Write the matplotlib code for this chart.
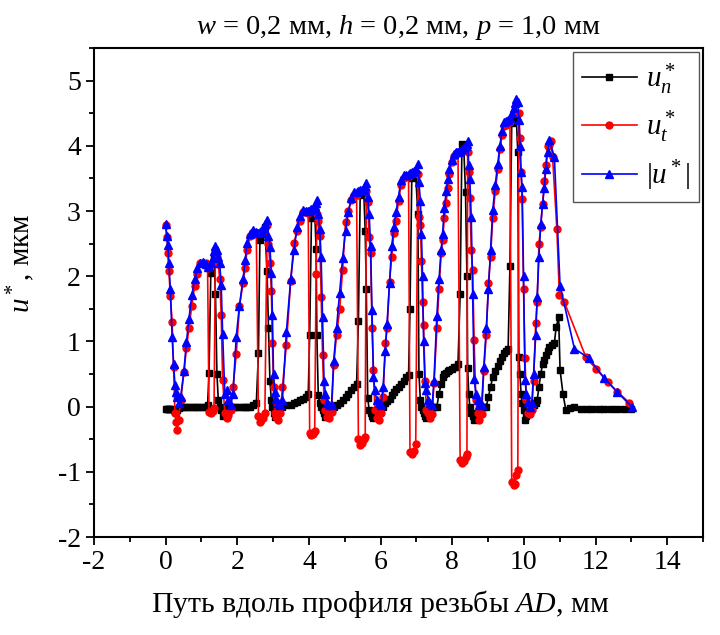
import matplotlib
matplotlib.use("Agg")
import matplotlib.pyplot as plt
from matplotlib.ticker import MultipleLocator

plt.rcParams['font.family'] = ['Liberation Serif', 'DejaVu Serif']
plt.rcParams['mathtext.fontset'] = 'custom'
plt.rcParams['mathtext.rm'] = 'Liberation Serif'
plt.rcParams['mathtext.it'] = 'Liberation Serif:italic'
plt.rcParams['axes.unicode_minus'] = False

# shared nodes along the thread profile (x, mm) - start, then tooth by tooth
x_main = [
    0.00, 0.03, 0.06, 0.09, 0.13, 0.18, 0.22, 0.26, 0.29, 0.32, 0.36,
    0.42, 0.51, 0.58, 0.65, 0.73, 0.81, 0.88, 0.96, 1.04, 1.12, 1.17, 1.21, 1.26, 1.31, 1.35, 1.39,
    1.43, 1.47, 1.51, 1.55, 1.59, 1.65, 1.70, 1.75, 1.81,
    1.88, 1.97, 2.06, 2.16, 2.22, 2.27, 2.35, 2.45, 2.53, 2.59, 2.63, 2.67, 2.72, 2.77, 2.83,
    2.87, 2.91, 2.95, 2.98, 3.01, 3.05, 3.09, 3.14, 3.20,
    3.26, 3.37, 3.49, 3.58, 3.67, 3.75, 3.83, 3.92, 3.98, 4.02, 4.07, 4.12, 4.16, 4.20, 4.22,
    4.26, 4.30, 4.34, 4.38, 4.42, 4.46, 4.51, 4.57, 4.63,
    4.69, 4.77, 4.86, 4.94, 5.02, 5.10, 5.18, 5.27, 5.33, 5.38, 5.43, 5.48, 5.53, 5.57, 5.60,
    5.64, 5.68, 5.72, 5.76, 5.80, 5.84, 5.89, 5.95, 6.01,
    6.07, 6.13, 6.18, 6.25, 6.31, 6.37, 6.43, 6.50, 6.57, 6.65, 6.72, 6.78, 6.82, 6.87, 6.93, 6.98, 7.04,
    7.07, 7.11, 7.14, 7.17, 7.20, 7.24, 7.28, 7.33, 7.38, 7.44,
    7.49, 7.57, 7.63, 7.69, 7.73, 7.78, 7.83, 7.87, 7.92, 7.98, 8.04, 8.10, 8.16, 8.22, 8.27, 8.32, 8.37, 8.41, 8.43,
    8.46, 8.49, 8.53, 8.57, 8.61, 8.66, 8.71, 8.76, 8.82,
    8.88, 8.95, 9.01, 9.07, 9.13, 9.20, 9.27, 9.33, 9.39, 9.45, 9.51, 9.56, 9.61, 9.66, 9.71, 9.75, 9.79, 9.83,
    9.86, 9.89, 9.92, 9.95, 9.99, 10.03, 10.07, 10.12, 10.17, 10.22,
    10.27, 10.33, 10.37, 10.42, 10.47, 10.52, 10.57, 10.61, 10.66, 10.71,
]

u_abs_main = [
    2.80, 2.62, 2.48, 2.20, 1.80, 1.07, 0.65, 0.33, 0.23, 0.15, 0.05,
    0.15, 0.55, 0.99, 1.35, 1.71, 1.95, 2.12, 2.20, 2.22, 2.18, 2.14, 2.15, 2.20, 2.28, 2.38, 2.47,
    2.40, 2.30, 2.20, 1.86, 1.12, 0.20, 0.25, 0.10, 0.02,
    0.20, 1.07, 1.55, 1.96, 2.25, 2.51, 2.65, 2.71, 2.68, 2.66, 2.68, 2.70, 2.74, 2.80, 2.86,
    2.62, 2.45, 2.05, 1.40, 0.50, 0.22, 0.12, 0.05, 0.02,
    0.10, 1.15, 1.95, 2.40, 2.75, 2.92, 3.01, 3.00, 3.00, 3.02, 3.03, 3.05, 3.08, 3.12, 3.17,
    2.95, 2.73, 2.29, 1.38, 0.40, 0.20, 0.05, 0.02, 0.02,
    0.70, 1.20, 1.75, 2.28, 2.70, 2.98, 3.20, 3.29, 3.29, 3.30, 3.32, 3.32, 3.35, 3.38, 3.43,
    3.21, 2.96, 2.47, 1.48, 0.45, 0.25, 0.10, 0.05, 0.02,
    0.30, 0.85, 1.27, 1.90, 2.46, 2.75, 2.98, 3.22, 3.47, 3.55, 3.55, 3.57, 3.58, 3.60, 3.62, 3.65, 3.72,
    3.44, 3.16, 2.65, 2.00, 1.00, 0.36, 0.25, 0.10, 0.05, 0.02,
    0.40, 1.39, 1.95, 2.40, 2.65, 3.05, 3.30, 3.49, 3.65, 3.78, 3.88, 3.90, 3.90, 3.92, 3.95, 3.98, 4.00, 4.03, 4.07,
    3.70, 3.49, 2.91, 1.73, 0.43, 0.20, 0.10, 0.02, 0.02,
    0.60, 1.20, 1.80, 2.40, 3.01, 3.40, 3.72, 4.00, 4.23, 4.36, 4.38, 4.40, 4.42, 4.50, 4.58, 4.65, 4.72, 4.67,
    4.40, 4.00, 3.60, 3.37, 2.01, 0.41, 0.20, 0.07, 0.00, 0.05,
    0.50, 1.10, 1.68, 2.30, 2.80, 3.10, 3.35, 3.65, 3.90, 4.09,
]

u_t_main = [
    2.78, 2.60, 2.35, 2.08, 1.70, 1.30, 0.61, -0.10, -0.23, -0.36, -0.20,
    0.10, 0.53, 0.90, 1.20, 1.55, 1.85, 2.03, 2.20, 2.20, 2.20, 2.12, -0.08, -0.10, -0.07, -0.02, 2.40,
    2.29, 2.19, 1.95, 1.40, 0.41, -0.10, -0.18, -0.13, -0.05,
    0.30, 0.80, 1.54, 1.90, 2.13, 2.40, 2.62, 2.68, 2.66, -0.15, -0.23, -0.20, -0.17, -0.10, 2.78,
    2.50, 2.20, 1.78, 0.98, 0.30, -0.10, -0.16, -0.20, -0.10,
    0.30, 0.95, 1.93, 2.51, 2.70, 2.84, 2.98, 2.98, 2.97, -0.40, -0.44, -0.42, -0.38, 2.04, 2.95,
    2.85, 2.62, 1.68, 0.79, 0.10, -0.05, -0.16, -0.18, -0.08,
    0.64, 1.10, 1.50, 2.10, 2.83, 3.00, 3.17, 3.25, 3.25, -0.50, -0.59, -0.56, -0.50, -0.46, 3.30,
    3.14, 2.60, 2.35, 1.20, 0.56, -0.05, -0.18, -0.20, -0.10,
    0.15, 0.98, 1.20, 1.91, 2.30, 2.66, 2.85, 3.15, 3.40, 3.50, 3.53, 3.53, -0.69, -0.72, -0.68, -0.58, 3.57,
    2.91, 2.78, 2.24, 1.60, 1.25, 0.40, -0.05, -0.10, -0.18, -0.12,
    0.36, 1.20, 1.80, 2.35, 2.55, 2.90, 3.12, 3.35, 3.57, 3.75, 3.85, 3.88, 3.90, -0.82, -0.87, -0.84, -0.78, -0.72, 3.90,
    3.60, 3.20, 2.40, 2.09, 1.02, 0.10, -0.10, -0.20, -0.12,
    0.55, 1.10, 1.90, 2.30, 2.90, 3.30, 3.64, 3.95, 4.16, 4.30, 4.32, 4.35, 4.36, -1.15, -1.20, -1.18, -1.05, -0.97,
    4.50, 4.12, 3.60, 3.19, 1.80, 0.74, 0.10, -0.10, -0.12, -0.05,
    0.40, 1.28, 1.60, 2.50, 2.75, 3.10, 3.46, 3.70, 4.00, 4.02,
]

u_n_main = [
    -0.03, -0.03, -0.03, -0.03, -0.03, -0.03, -0.05, -0.08, -0.10, -0.05, -0.02,
    0.00, 0.00, 0.00, 0.00, 0.00, 0.00, 0.00, 0.00, 0.00, 0.00, 0.02, 0.52, 2.05, 2.20, 2.30, 1.73,
    0.50, 0.10, 0.00, -0.05, -0.15, -0.10, -0.05, 0.00, 0.00,
    0.00, 0.00, 0.00, 0.00, 0.00, 0.00, 0.00, 0.02, 0.05, 0.82, 2.55, 2.65, 2.70, 2.75, 2.08,
    1.20, 0.40, 0.10, 0.00, -0.10, -0.16, -0.12, -0.05, 0.00,
    0.00, 0.02, 0.03, 0.05, 0.07, 0.10, 0.12, 0.15, 0.20, 1.10, 2.90, 2.95, 3.00, 2.41, 1.10,
    0.18, 0.05, 0.00, -0.05, -0.10, -0.16, -0.12, -0.03, 0.00,
    0.00, 0.03, 0.06, 0.10, 0.15, 0.20, 0.25, 0.30, 0.35, 1.31, 3.25, 3.28, 3.30, 2.69, 1.80,
    0.13, -0.05, -0.10, -0.15, -0.18, -0.15, -0.10, -0.02, 0.00,
    0.00, 0.05, 0.08, 0.12, 0.18, 0.22, 0.27, 0.30, 0.35, 0.40, 0.45, 0.48, 1.49, 3.50, 3.52, 3.55, 2.95,
    0.50, 0.10, 0.00, -0.05, -0.10, -0.15, -0.18, -0.10, -0.05, 0.00,
    0.00, 0.00, 0.20, 0.35, 0.46, 0.50, 0.52, 0.54, 0.56, 0.58, 0.60, 0.61, 0.65, 1.72, 4.03, 3.98, 3.29, 2.00, 0.59,
    0.20, 0.00, -0.10, -0.15, -0.21, -0.18, -0.10, -0.02, 0.00,
    0.00, 0.00, 0.15, 0.30, 0.46, 0.55, 0.62, 0.70, 0.76, 0.82, 0.86, 0.89, 2.15, 4.35, 4.38, 4.40, 4.40, 3.90,
    0.76, 0.50, 0.20, 0.05, -0.05, -0.20, -0.15, -0.12, -0.05, 0.00,
    0.02, 0.05, 0.10, 0.30, 0.50, 0.65, 0.72, 0.79, 0.85, 0.92,
]

# last tooth flank and the end of the path, nodes differ per component
x_n_tail = [10.78, 10.85, 10.90, 10.97, 11.01, 11.09, 11.17, 11.29, 11.41, 11.59,
            11.76, 11.91, 12.10, 12.24, 12.43, 12.61, 12.80, 13.00]
u_n_tail = [0.94, 0.97, 1.22, 1.37, 0.56, 0.20, -0.05, -0.02, 0.00, -0.03,
            -0.03, -0.03, -0.03, -0.03, -0.03, -0.03, -0.03, -0.03]
x_t_tail = [10.75, 10.80, 10.92, 10.99, 11.13, 11.73, 12.01, 12.34, 12.61, 12.94]
u_t_tail = [4.08, 3.83, 2.73, 1.71, 1.60, 0.76, 0.58, 0.38, 0.23, 0.06]
x_abs_tail = [10.85, 11.01, 11.41, 11.82, 12.24, 12.59, 13.01]
u_abs_tail = [3.83, 1.85, 0.89, 0.74, 0.44, 0.23, 0.00]

fig = plt.figure(figsize=(7.2, 6.35), dpi=100)
ax = fig.add_axes([0.1306, 0.1543, 0.8458, 0.7701])

ax.plot(x_main + x_n_tail, u_n_main + u_n_tail, color='black', lw=1.2,
        marker='s', ms=4.5, label=r'$u_n^*$')
ax.plot(x_main + x_t_tail, u_t_main + u_t_tail, color='red', lw=1.2,
        marker='o', ms=5, label=r'$u_t^*$')
ax.plot(x_main + x_abs_tail, u_abs_main + u_abs_tail, color='blue', lw=1.2,
        marker='^', ms=5.5, label=r'$|u^*|$')

ax.set_xlim(-2, 15)
ax.set_ylim(-2, 5.5)
ax.xaxis.set_major_locator(MultipleLocator(2))
ax.xaxis.set_minor_locator(MultipleLocator(1))
ax.yaxis.set_major_locator(MultipleLocator(1))
ax.yaxis.set_minor_locator(MultipleLocator(0.5))
ax.tick_params(which='both', direction='out', top=False, right=False, labelsize=20, width=1.3)
ax.tick_params(which='major', length=6)
ax.tick_params(which='minor', length=3.5)
for sp in ax.spines.values():
    sp.set_linewidth(1.5)

ax.set_xlabel(r'Путь вдоль профиля резьбы $AD$, мм', fontsize=21.5, labelpad=14)
ax.xaxis.set_label_coords(0.47, -0.105)
ax.set_ylabel(r'$u^*$, мкм', fontsize=21, labelpad=6)
ax.yaxis.set_label_coords(-0.093, 0.56)
ax.set_title(r'$w$ = 0,2 мм, $h$ = 0,2 мм, $p$ = 1,0 мм', fontsize=20.5, pad=10)

leg = ax.legend(loc='upper right', fontsize=21, handlelength=1.9, borderaxespad=0.15,
                fancybox=False, framealpha=1, labelspacing=0.45, handletextpad=0.3,
                borderpad=0.3)
leg.get_frame().set_edgecolor('#555555')
leg.get_frame().set_linewidth(1.0)

fig.savefig('out.png', dpi=100)
